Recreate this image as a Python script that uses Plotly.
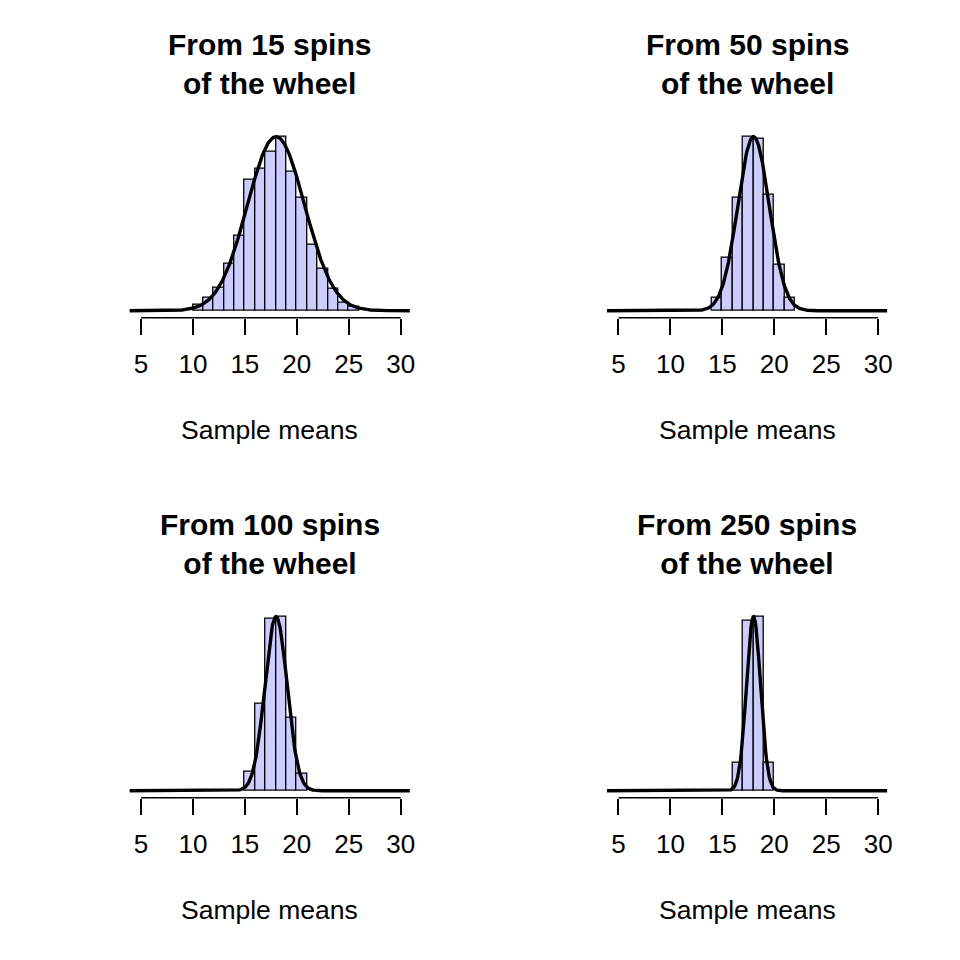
import numpy as np
import plotly.graph_objects as go
from plotly.subplots import make_subplots

# roulette wheel: numbers 0..36
wheel_mean = 18
wheel_sd = np.sqrt(114)

spins = [15, 50, 100, 250]

# histogram bins (left edges, width 1) and densities
left_15 = [10, 11, 12, 13, 14, 15, 16, 17, 18, 19, 20, 21, 22, 23, 24, 25]
dens_15 = [0.0054, 0.0111, 0.0195, 0.039, 0.062, 0.109, 0.118, 0.132,
           0.145, 0.116, 0.094, 0.055, 0.035, 0.018, 0.0067, 0.0035]

left_50 = [14, 15, 16, 17, 18, 19, 20, 21]
dens_50 = [0.0197, 0.0805, 0.1716, 0.2642, 0.2607, 0.1756, 0.0693, 0.0197]

left_100 = [15, 16, 17, 18, 19, 20]
dens_100 = [0.0408, 0.1876, 0.3701, 0.3737, 0.1568, 0.0365]

left_250 = [16, 17, 18, 19]
dens_250 = [0.0962, 0.5761, 0.5908, 0.0962]

tick_vals = [5, 10, 15, 20, 25, 30]
x_lo, x_hi = 3.88, 30.89

panels = [(left_15, dens_15), (left_50, dens_50),
          (left_100, dens_100), (left_250, dens_250)]

FONT = "Liberation Sans, Arial, sans-serif"
W = H = 960
OFF = 8  # page body margin

fig = make_subplots(rows=2, cols=2)

# plot regions in pixels (left, right) and (top, bottom)
cols_px = [(130, 412), (610, 892)]
rows_px = [(129.7, 317.7), (609.7, 797.7)]

shapes = []
for i, (n, (left, dens)) in enumerate(zip(spins, panels)):
    r, c = i // 2, i % 2
    se = wheel_sd / np.sqrt(n)
    peak = 1 / (se * np.sqrt(2 * np.pi))

    centers = [l + 0.5 for l in left]
    fig.add_trace(go.Bar(x=centers, y=dens, width=1,
                         marker=dict(color="#CCCCFF", line=dict(color="black", width=1.3)),
                         showlegend=False, hoverinfo="skip"), row=r + 1, col=c + 1)

    # normal curve for the sample mean
    xs = np.linspace(x_lo, x_hi, 400)
    ys = np.exp(-0.5 * ((xs - wheel_mean) / se) ** 2) / (se * np.sqrt(2 * np.pi))
    fig.add_trace(go.Scatter(x=xs, y=ys, mode="lines",
                             line=dict(color="black", width=3.4),
                             showlegend=False, hoverinfo="skip"), row=r + 1, col=c + 1)

    k = "" if i == 0 else str(i + 1)
    x0, x1 = cols_px[c][0] - OFF, cols_px[c][1] - OFF
    t, b = rows_px[r][0] - OFF, rows_px[r][1] - OFF
    fig.layout["xaxis" + k].update(
        domain=[x0 / W, x1 / W], range=[x_lo, x_hi], tickvals=tick_vals,
        ticks="outside", ticklen=16, tickwidth=1.5, tickcolor="black",
        showline=False, showgrid=False, zeroline=False,
        tickfont=dict(family=FONT, size=26, color="black"), ticklabelstandoff=7)
    fig.layout["yaxis" + k].update(
        domain=[1 - b / H, 1 - t / H], range=[-0.04 * peak, 1.04 * peak],
        visible=False, showgrid=False, zeroline=False)

    # axis line from first to last tick along the bottom of the plot region
    px5 = x0 + (tick_vals[0] - x_lo) / (x_hi - x_lo) * (x1 - x0)
    px30 = x0 + (tick_vals[-1] - x_lo) / (x_hi - x_lo) * (x1 - x0)
    shapes.append(dict(type="line", x0=px5 / W, x1=px30 / W,
                       y0=1 - b / H, y1=1 - b / H, xref="paper", yref="paper",
                       layer="above", line=dict(color="black", width=1.5)))

    cx = (x0 + x1) / 2 / W
    fig.add_annotation(text="<b>From %d spins<br>of the wheel</b>" % n,
                       x=cx, y=1 - (64 - OFF + 480 * r) / H, xref="paper", yref="paper",
                       showarrow=False, xanchor="center", yanchor="middle",
                       font=dict(family=FONT, size=30, color="black"))
    fig.add_annotation(text="Sample means",
                       x=cx, y=1 - (430 - OFF + 480 * r) / H, xref="paper", yref="paper",
                       showarrow=False, xanchor="center", yanchor="middle",
                       font=dict(family=FONT, size=26.5, color="black"))

fig.update_layout(width=W, height=H, margin=dict(l=0, r=0, t=0, b=0),
                  shapes=shapes,
                  plot_bgcolor="white", paper_bgcolor="white", bargap=0)

fig.write_html("out.html")
